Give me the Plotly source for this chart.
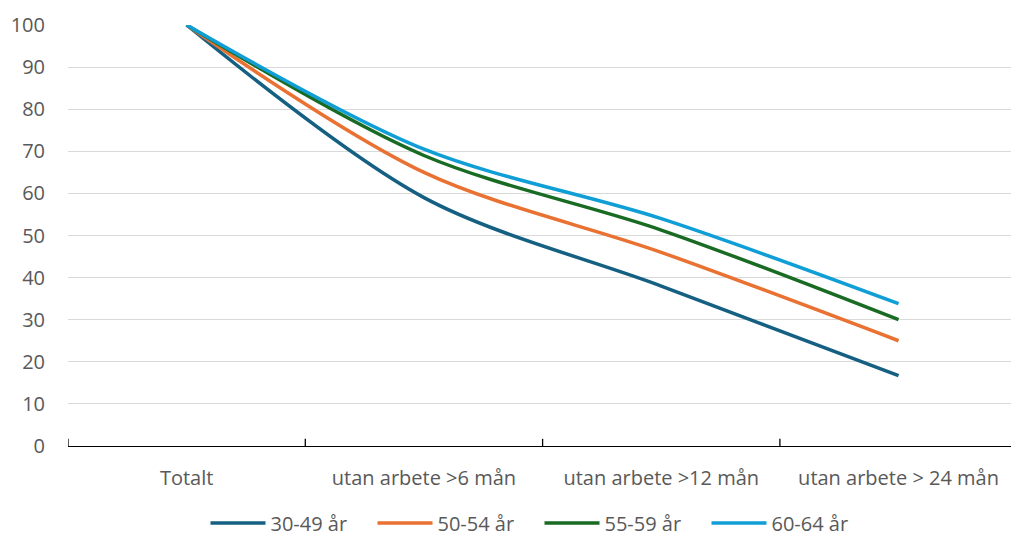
import plotly.graph_objects as go

categories = ["Totalt", "utan arbete >6 mån", "utan arbete >12 mån", "utan arbete > 24 mån"]
series_names = ["30-49 år", "50-54 år", "55-59 år", "60-64 år"]
v_30_49 = [100, 59, 38, 16.7]
v_50_54 = [100, 65, 46, 25]
v_55_59 = [100, 69, 51.3, 30]
v_60_64 = [100, 70.5, 54, 33.8]
y_ticks = [0, 10, 20, 30, 40, 50, 60, 70, 80, 90, 100]

colors = ["#156082", "#E97132", "#196B24", "#0F9ED5"]
FONT = "Open Sans"
GRAY = "#595959"
FS = 20

fig = go.Figure()
for name, vals, col in zip(series_names, [v_30_49, v_50_54, v_55_59, v_60_64], colors):
    fig.add_trace(go.Scatter(
        x=list(range(len(categories))), y=vals, name=name, mode="lines",
        line=dict(color=col, width=3.5, shape="spline", smoothing=0.9),
    ))

# tick marks crossing the category axis
for b in range(len(categories) + 1):
    fig.add_shape(type="line", xref="x", yref="y", x0=b - 0.5, x1=b - 0.5,
                  y0=-1.7, y1=1.7, line=dict(color="black", width=1.3))

fig.update_layout(
    width=1011, height=538,
    margin=dict(l=68, r=0, t=25, b=92, autoexpand=False),
    plot_bgcolor="white", paper_bgcolor="white",
    font=dict(family=FONT, size=FS, color=GRAY),
    showlegend=True,
    legend=dict(orientation="h", x=0.5, xanchor="center", yref="container",
                y=0.028, yanchor="middle", itemwidth=55, entrywidth=97,
                entrywidthmode="pixels", font=dict(size=FS, color=GRAY),
                traceorder="normal"),
    xaxis=dict(
        tickmode="array", tickvals=list(range(len(categories))), ticktext=categories,
        range=[-0.5, -0.5 + 943 / 237.3], showgrid=False, zeroline=False,
        showline=True, linecolor="black", linewidth=1.3, automargin=False,
        ticks="", ticklabelstandoff=14,
        tickfont=dict(size=FS, color=GRAY),
    ),
    yaxis=dict(
        range=[0, 100], tickvals=y_ticks, showgrid=True, gridcolor="#D9D9D9",
        gridwidth=1.3, zeroline=False, showline=False, ticks="", automargin=False,
        ticklabelstandoff=22, tickfont=dict(size=FS, color=GRAY),
    ),
)

fig.write_html("out.html", config={"displayModeBar": False},
               post_script="document.body.style.margin='0';document.body.style.overflow='hidden';")
